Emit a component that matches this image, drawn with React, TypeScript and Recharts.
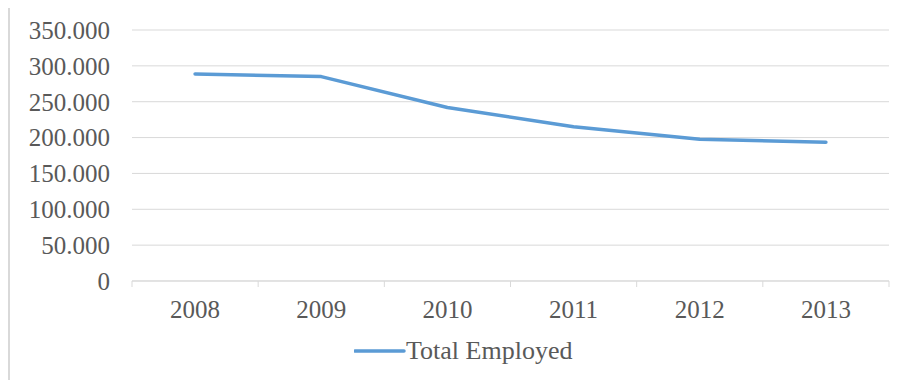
import React from 'react';
import { LineChart, Line, XAxis, YAxis, CartesianGrid, Legend } from 'recharts';

const years = ['2008', '2009', '2010', '2011', '2012', '2013'];
const totalEmployed = [288800, 285000, 242000, 215000, 197500, 193500];
const yTicks = [0, 50000, 100000, 150000, 200000, 250000, 300000, 350000];
const seriesName = 'Total Employed';

const data = years.map((y, i) => ({ year: y, value: totalEmployed[i] }));

const FONT = '"Liberation Serif", "Times New Roman", serif';
const TEXT = '#595959';
const GRID = '#d9d9d9';
const LINE = '#5b9bd5';

const fmt = (v: number) => (v === 0 ? '0' : `${Math.round(v / 1000)}.000`);

const XTick = (props: any) => {
  const { x, y, payload, index, visibleTicksCount } = props;
  const off = payload && typeof payload.offset === 'number' ? payload.offset : 0;
  const isLast = index === (visibleTicksCount ?? years.length) - 1;
  const axisY = y - 19;
  return (
    <g>
      <line x1={x - off} y1={axisY} x2={x - off} y2={axisY + 6} stroke={GRID} strokeWidth={1} />
      {isLast && <line x1={x + off} y1={axisY} x2={x + off} y2={axisY + 6} stroke={GRID} strokeWidth={1} />}
      <text x={x} y={y} dy="0.71em" textAnchor="middle" fill={TEXT} fontSize={25} fontFamily={FONT}>
        {payload.value}
      </text>
    </g>
  );
};

const LegendContent = () => (
  <div style={{ display: 'flex', alignItems: 'center', fontFamily: FONT, fontSize: 26, color: TEXT, whiteSpace: 'nowrap' }}>
    <svg width={52} height={10} style={{ display: 'block' }}>
      <line x1={1} y1={5} x2={50} y2={5} stroke={LINE} strokeWidth={3.5} strokeLinecap="round" />
    </svg>
    <span>{seriesName}</span>
  </div>
);

export default function App() {
  return (
    <div style={{ position: 'relative', width: 903, height: 380, marginLeft: -8, marginTop: -8, background: '#fff', overflow: 'hidden' }}>
      <div
        style={{
          position: 'absolute',
          left: 8,
          top: 6,
          width: 903,
          height: 400,
          borderLeft: `2px solid ${GRID}`,
          borderTop: `2px solid ${GRID}`,
          boxSizing: 'border-box',
        }}
      />
      <div style={{ position: 'absolute', left: 0, top: 0 }}>
        <LineChart width={903} height={380} data={data} margin={{ top: 30, right: 14, bottom: 69, left: 0 }}>
          <CartesianGrid vertical={false} stroke={GRID} strokeWidth={1} />
          <XAxis
            dataKey="year"
            scale="band"
            axisLine={{ stroke: GRID, strokeWidth: 1 }}
            tickLine={false}
            tickSize={0}
            tickMargin={19}
            tick={<XTick />}
            interval={0}
          />
          <YAxis
            width={132}
            domain={[0, 350000]}
            ticks={yTicks}
            axisLine={false}
            tickLine={false}
            tickSize={0}
            tickMargin={22}
            tickFormatter={fmt}
            tick={{ fill: TEXT, fontSize: 25, fontFamily: FONT }}
            interval={0}
          />
          <Legend
            layout="horizontal"
            verticalAlign="middle"
            align="center"
            content={<LegendContent />}
            wrapperStyle={{ left: 354, top: 336, width: 300 }}
          />
          <Line
            type="linear"
            dataKey="value"
            name={seriesName}
            stroke={LINE}
            strokeWidth={3.5}
            dot={false}
            activeDot={false}
            strokeLinecap="round"
            strokeLinejoin="round"
            isAnimationActive={false}
          />
        </LineChart>
      </div>
    </div>
  );
}
